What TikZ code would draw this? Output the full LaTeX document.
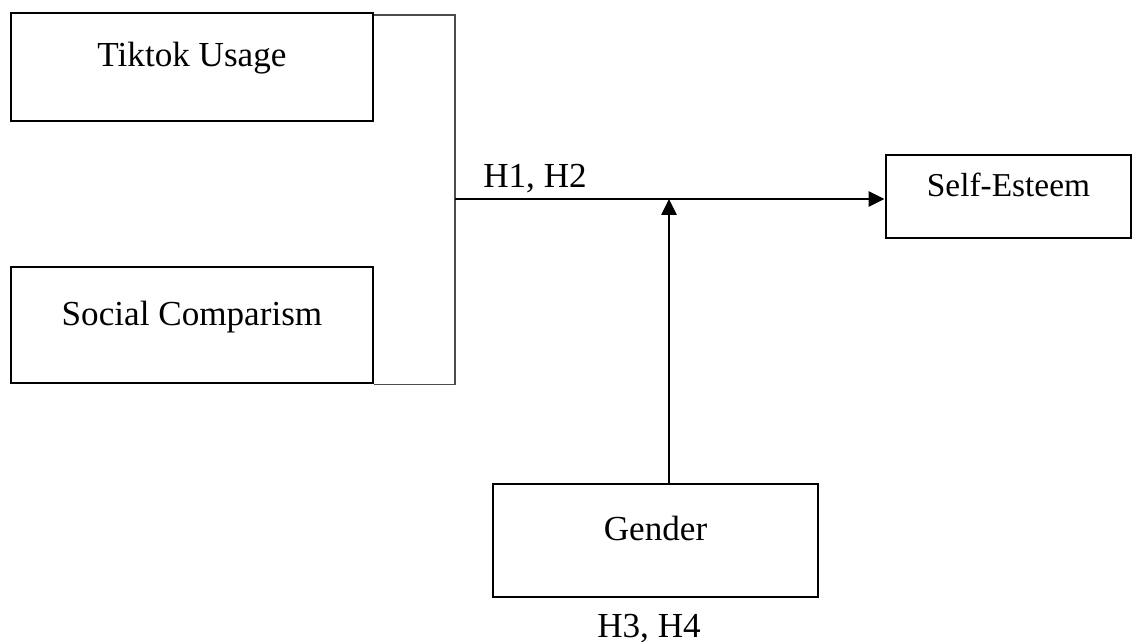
\documentclass[tikz,border=0pt]{standalone}
\usepackage{fontspec}
\setmainfont{Liberation Serif}
\usetikzlibrary{arrows.meta}
\tikzset{
    varbox/.style={draw, line width=1.6pt, inner sep=0pt,
        text height=0.5cm, text depth=0.5cm,
        font=\fontsize{20}{24}\selectfont},
    hyplabel/.style={anchor=base, inner sep=0pt, font=\fontsize{20}{24}\selectfont},
    link/.style={line width=1.5pt, -{Triangle[length=0.32cm,width=0.3cm]}},
    joinline/.style={line width=0.9pt, black!70}
}

\begin{document}
\begin{tikzpicture}[x=0.02cm,y=-0.02cm]
      \useasboundingbox (0,0) rectangle (1134,642);
      % variables
      \node[varbox, minimum width=7.24cm, minimum height=2.16cm] (tiktok) at (192,67) {Tiktok Usage};
      \node[varbox, minimum width=7.24cm, minimum height=2.32cm] (social) at (192,325) {Social Comparism};
      \node[varbox, minimum width=4.9cm, minimum height=1.66cm, font=\fontsize{19}{23}\selectfont] (esteem) at (1008.5,196.5) {Self-Esteem};
      \node[varbox, minimum width=6.5cm, minimum height=2.26cm] (gender) at (655.5,540.5) {Gender};
      % bracket joining the two predictors
      \coordinate (join) at (455,199);
      \coordinate (moder) at (669,199);
      \draw[joinline] ([yshift=-2]tiktok.north east) -| (join) |- (social.south east);
      % paths
      \draw[link] (join) -- (join -| esteem.west);
      \draw[link] (moder |- gender.north) -- (moder);
      % hypotheses
      \node[hyplabel] (h12) at (535,188) {H1, H2};
      \node[hyplabel] (h34) at (649,637) {H3, H4};
    \end{tikzpicture}
\end{document}
